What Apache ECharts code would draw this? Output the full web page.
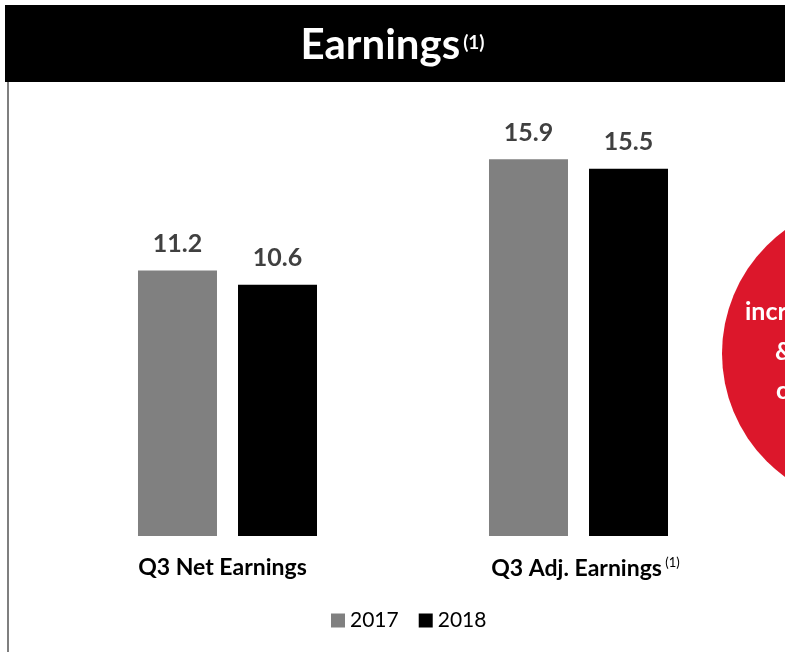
<!DOCTYPE html>
<html><head><meta charset="utf-8">
<script src="https://cdn.jsdelivr.net/npm/echarts@6/dist/echarts.min.js"></script>
<style>html,body{margin:0;padding:0;background:#fff}#c{width:785px;height:652px}</style>
</head><body><div id="c"></div>
<script>
const categories = ['Q3 Net Earnings', 'Q3 Adj. Earnings'];
const seriesNames = ['2017', '2018'];
const values2017 = [11.2, 15.9];
const values2018 = [10.6, 15.5];
const FONT = 'Lato';

const chart = echarts.init(document.getElementById('c'));
const labelOpt = {show: true, position: 'top', distance: 14, fontFamily: FONT, fontWeight: 'bold', fontSize: 25, color: '#404040', formatter: p => p.value.toFixed(1)};
chart.setOption({
  animation: false,
  title: {
    text: '{m|Earnings}{s|(1)}', left: 'center', top: 19,
    textStyle: {rich: {
      m: {fontFamily: FONT, fontWeight: 'bold', fontSize: 42, color: '#fff'},
      s: {fontFamily: FONT, fontWeight: 'bold', fontSize: 19, color: '#fff', padding: [0, 0, 4, 3]}
    }}
  },
  graphic: [
    {type: 'rect', z: -1, shape: {x: 5, y: 5, width: 785, height: 77}, style: {fill: '#000'}},
    {type: 'line', shape: {x1: 8, y1: 82, x2: 8, y2: 652}, style: {stroke: '#7f7f7f', lineWidth: 2}},
    {type: 'circle', shape: {cx: 874.5, cy: 353.5, r: 152.5}, style: {fill: '#dc172b'}},
    {type: 'text', z: 10, style: {text: 'increase', x: 745, y: 312, align: 'left', verticalAlign: 'middle', fill: '#fff', font: 'bold 25px ' + FONT}},
    {type: 'text', z: 10, style: {text: '&', x: 775, y: 352, align: 'left', verticalAlign: 'middle', fill: '#fff', font: 'bold 25px ' + FONT}},
    {type: 'text', z: 10, style: {text: 'cost', x: 776, y: 391, align: 'left', verticalAlign: 'middle', fill: '#fff', font: 'bold 25px ' + FONT}}
  ],
  legend: {
    top: 605, left: 326, itemWidth: 14, itemHeight: 14, itemGap: 20,
    icon: 'rect', textStyle: {fontFamily: FONT, fontSize: 21, color: '#000'},
    data: seriesNames
  },
  grid: {left: 52, right: 31, top: 62, bottom: 116},
  xAxis: {
    type: 'category', data: categories,
    axisLine: {show: false}, axisTick: {show: false},
    axisLabel: {
      margin: 20,
      formatter: v => v === 'Q3 Adj. Earnings' ? '{b2|' + v + '} {s|(1)}' : '{b|' + v + '}',
      rich: {
        b: {fontFamily: FONT, fontWeight: 'bold', fontSize: 23, color: '#000', padding: [0, 10, 0, 0]},
        b2: {fontFamily: FONT, fontWeight: 'bold', fontSize: 23, color: '#000', padding: [0, 0, 0, 14]},
        s: {fontFamily: FONT, fontSize: 13, color: '#000', padding: [0, 0, 12, 0]}
      }
    }
  },
  yAxis: {type: 'value', min: 0, max: 20, show: false, splitLine: {show: false}},
  series: [
    {name: seriesNames[0], type: 'bar', data: values2017, barWidth: 79, barGap: '26.6%', itemStyle: {color: '#808080'}, label: labelOpt},
    {name: seriesNames[1], type: 'bar', data: values2018, barWidth: 79, itemStyle: {color: '#000000'}, label: labelOpt}
  ]
});
</script></body></html>
